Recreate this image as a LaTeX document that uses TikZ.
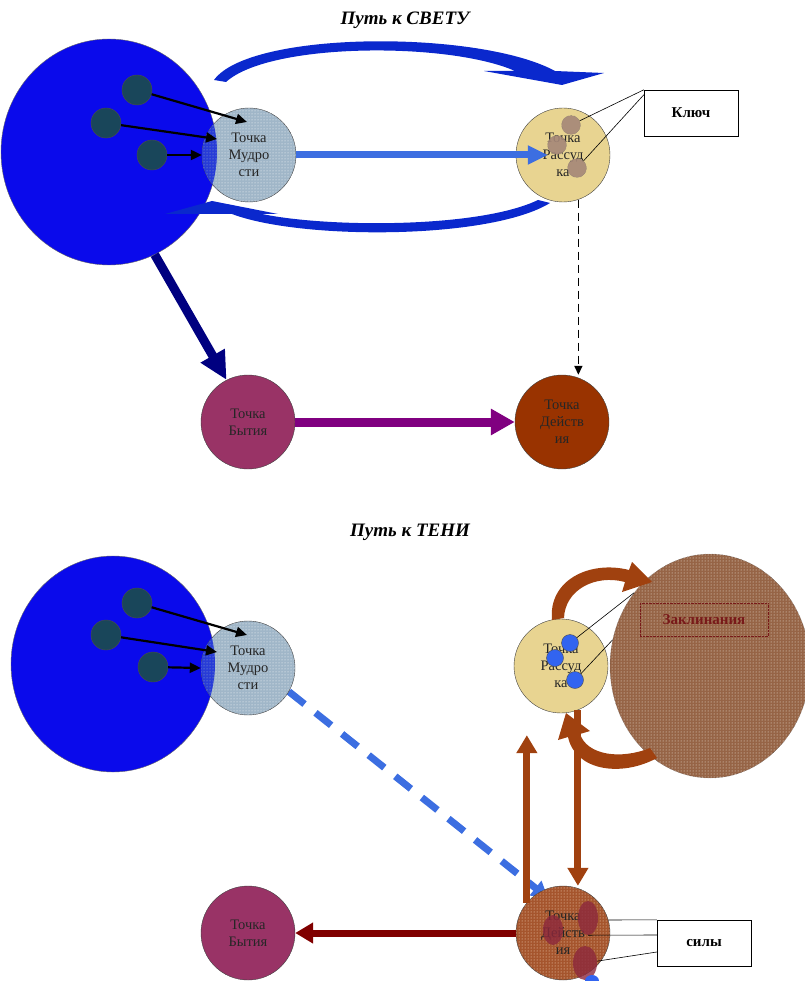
\documentclass[tikz,border=0pt]{standalone}
\usepackage{fontspec}
\setmainfont{Liberation Serif}
\usetikzlibrary{shapes,arrows.meta,positioning,calc,patterns,backgrounds}

\definecolor{bigblue}{RGB}{10,10,235}
\definecolor{darkdot}{RGB}{25,70,90}
\definecolor{mudcol}{RGB}{160,182,200}
\definecolor{overcol}{RGB}{40,60,215}
\definecolor{rasscol}{RGB}{232,212,145}
\definecolor{bytcol}{RGB}{153,51,102}
\definecolor{deicol}{RGB}{153,51,0}
\definecolor{deidots}{RGB}{165,85,45}
\definecolor{zakcol}{RGB}{150,100,70}
\definecolor{zaktext}{RGB}{120,25,25}
\definecolor{seedcol}{RGB}{165,135,120}
\definecolor{lineblue}{RGB}{60,110,225}
\definecolor{curvblue}{RGB}{10,40,205}
\definecolor{navyarr}{RGB}{0,0,128}
\definecolor{purparr}{RGB}{128,0,128}
\definecolor{brownarr}{RGB}{160,65,15}
\definecolor{redarr}{RGB}{128,0,0}
\definecolor{blobred}{RGB}{140,40,60}
\definecolor{blueblob}{RGB}{50,100,240}

\tikzset{
pnt/.style = {draw=black!75, circle, minimum size=94pt, inner sep=0pt, align=center, text=black!85, font=\fontsize{14.5}{17}\selectfont},
src/.style = {draw=black!60, ellipse, fill=bigblue},
grain/.style = {draw=black!70, circle, fill=darkdot, minimum size=30pt, inner sep=0pt},
keyseed/.style = {draw=black!60, densely dotted, circle, fill=seedcol, minimum size=19pt, inner sep=0pt, opacity=.9},
blueseed/.style = {draw=black!70, circle, fill=blueblob, minimum size=17pt, inner sep=0pt},
blob/.style = {ellipse, fill=blobred, opacity=.8, inner sep=0pt},
tag/.style = {draw, fill=white, rectangle, minimum width=94pt, minimum height=46pt, font=\bfseries\fontsize{15}{17}\selectfont},
heading/.style = {font=\bfseries\itshape\fontsize{19}{22}\selectfont},
leader/.style = {draw, line width=0.6pt},
ptr/.style = {line width=2.2pt, -{Triangle[length=11pt,width=10pt]}},
dotfill/.style = {postaction={pattern=dots, pattern color=#1}},
overlap/.style = {fill=overcol, postaction={pattern=dots, pattern color=mudcol}}
}

\begin{document}
\begin{tikzpicture}[x=1pt, y=-1pt]
  \useasboundingbox (0,0) rectangle (804,981);

  % path to the light
  \node [heading] (titleA) at (405,20) {Путь к СВЕТУ};
  \node [src, minimum width=216pt, minimum height=226pt] (srcA) at (109,152) {};
  \node [grain] (gA1) at (137,90)  {};
  \node [grain] (gA2) at (106,123) {};
  \node [grain] (gA3) at (152,155) {};
  \node [pnt, fill=mudcol, dotfill=white] (mudA) at (249,155) {Точка\\Мудро\\сти};
  \begin{scope}
    \clip (srcA.center) ellipse [x radius=108pt, y radius=113pt];
    \fill [overlap] (mudA.center) circle [radius=47pt];
  \end{scope}

  \fill [curvblue] (214,80) .. controls (250,30) and (480,30) .. (555,71) -- (604,73) -- (562,85)
    -- (484,71) -- (515,71) .. controls (450,42) and (270,42) .. (226,82) -- cycle;
  \fill [curvblue] (165,214) -- (212,201) -- (278,214) -- (262,214) .. controls (330,228) and (480,228) .. (538,200)
    -- (550,203) .. controls (490,240) and (300,240) .. (232,214) -- cycle;

  \node [pnt, fill=rasscol] (rassA) at (563,155) {Точка\\Рассуд\\ка};
  \node [keyseed] (kA1) at (571,125) {};
  \node [keyseed] (kA2) at (557,145) {};
  \node [keyseed] (kA3) at (577,168) {};
  \node [tag] (keyA) at (691,113) {Ключ};
  \draw [leader] (keyA.north west) -- (kA1);
  \draw [leader] ([yshift=-5pt]keyA.north west) -- (kA3);

  \node [pnt, fill=bytcol] (bytA) at (248,422) {Точка\\Бытия};
  \node [pnt, fill=deicol] (deiA) at (562,422) {Точка\\Действ\\ия};

  \draw [ptr] (gA1) -- ($(mudA)+(-2,-33)$);
  \draw [ptr] (gA2) -- ($(mudA)+(-32,-16)$);
  \draw [ptr] (gA3) -- (mudA.west);
  \draw [line width=7pt, lineblue, -{Triangle[length=20pt,width=18pt]}] (mudA.east) -- ($(rassA.west)+(32,0)$);
  \draw [line width=9pt, navyarr, -{Triangle[length=28pt,width=26pt]}] (srcA.-66) -- (bytA.117);
  \draw [line width=9pt, purparr, -{Triangle[length=24pt,width=25pt]}] (bytA.east) -- (deiA.west);
  \draw [line width=1.5pt, dash pattern=on 8pt off 5pt, -{Triangle[length=9pt,width=8pt]}] (rassA.-71) -- (rassA.-71 |- deiA.north);

  % path to the shadow
  \node [heading] (titleB) at (410,532) {Путь к ТЕНИ};
  \node [src, minimum width=204pt, minimum height=216pt] (srcB) at (113,664) {};
  \node [grain] (gB1) at (137,603) {};
  \node [grain] (gB2) at (106,635) {};
  \node [grain] (gB3) at (153,667) {};
  \node [pnt, fill=mudcol, dotfill=white] (mudB) at (248,668) {Точка\\Мудро\\сти};
  \begin{scope}
    \clip (srcB.center) ellipse [x radius=102pt, y radius=108pt];
    \fill [overlap] (mudB.center) circle [radius=47pt];
  \end{scope}
  \draw [ptr] (gB1) -- ($(mudB)+(-1,-33)$);
  \draw [ptr] (gB2) -- ($(mudB)+(-31,-16)$);
  \draw [ptr] (gB3) -- (mudB.west);

  \node [pnt, fill=rasscol] (rassB) at (561,666) {Точка\\Рассуд\\ка};
  \node [blueseed] (kB1) at (570,643) {};
  \node [blueseed] (kB2) at (555,658) {};
  \node [blueseed] (kB3) at (575,680) {};
  \node [ellipse, draw=black!70, densely dotted, fill=zakcol, dotfill={white!85!brown}, minimum width=200pt, minimum height=224pt] (zakB) at (710,666) {};
  \node [draw=zaktext, densely dotted, minimum width=128pt, minimum height=33pt, text=zaktext, font=\bfseries\fontsize{15}{17}\selectfont] (spell) at (704,620) {Заклинания};
  \draw [leader] (zakB.136) -- (kB1);
  \draw [leader] (zakB.165) -- (kB3);

  \fill [brownarr] (552,620) .. controls (548,580) and (590,560) .. (629,570) -- (632,562) -- (652,582)
    -- (622,592) -- (625,582) .. controls (595,574) and (565,590) .. (564,618) -- cycle;
  \fill [brownarr] (657,758) .. controls (620,778) and (575,770) .. (568,737) -- (558,740) -- (566,713)
    -- (590,731) -- (580,734) .. controls (587,755) and (620,760) .. (650,748) -- cycle;

  \node [pnt, fill=bytcol] (bytB) at (248,933) {Точка\\Бытия};
  \node [pnt, fill=deidots, dotfill={white!80!orange}] (deiB) at (563,933) {Точка\\Действ\\ия};
  \node [blob, minimum width=20pt, minimum height=34pt] (bl1) at (588,918) {};
  \node [blob, minimum width=20pt, minimum height=30pt] (bl2) at (553,930) {};
  \node [blob, minimum width=24pt, minimum height=34pt] (bl3) at (585,963) {};
  \node [ellipse, fill=blueblob, minimum width=14pt, minimum height=12pt] (bl4) at (592,981) {};

  \node [tag] (forceB) at (704,943) {силы};
  \draw [leader] (forceB.north west) -- (deiB.16);
  \draw [leader] ($(forceB.west)+(0,-8)$) -- (bl1.south);
  \draw [leader] ($(forceB.west)+(0,9)$) -- (bl3);

  \begin{scope}[on background layer]
    \draw [line width=7pt, lineblue, dash pattern=on 20pt off 14pt, -{Triangle[length=16pt,width=18pt]}] (mudB.-30) -- ($(deiB.center)+(-15,-35)$);
  \end{scope}
  \draw [line width=7pt, brownarr, -{Triangle[length=18pt,width=20pt]}, shorten >=22pt] (deiB.140) -- (deiB.140 |- rassB.south);
  \draw [line width=7pt, brownarr, -{Triangle[length=18pt,width=20pt]}] (rassB.-69) -- (rassB.-69 |- deiB.north);
  \draw [line width=7pt, redarr, -{Triangle[length=18pt,width=20pt]}] (deiB.west) -- (bytB.east);
\end{tikzpicture}
\end{document}
